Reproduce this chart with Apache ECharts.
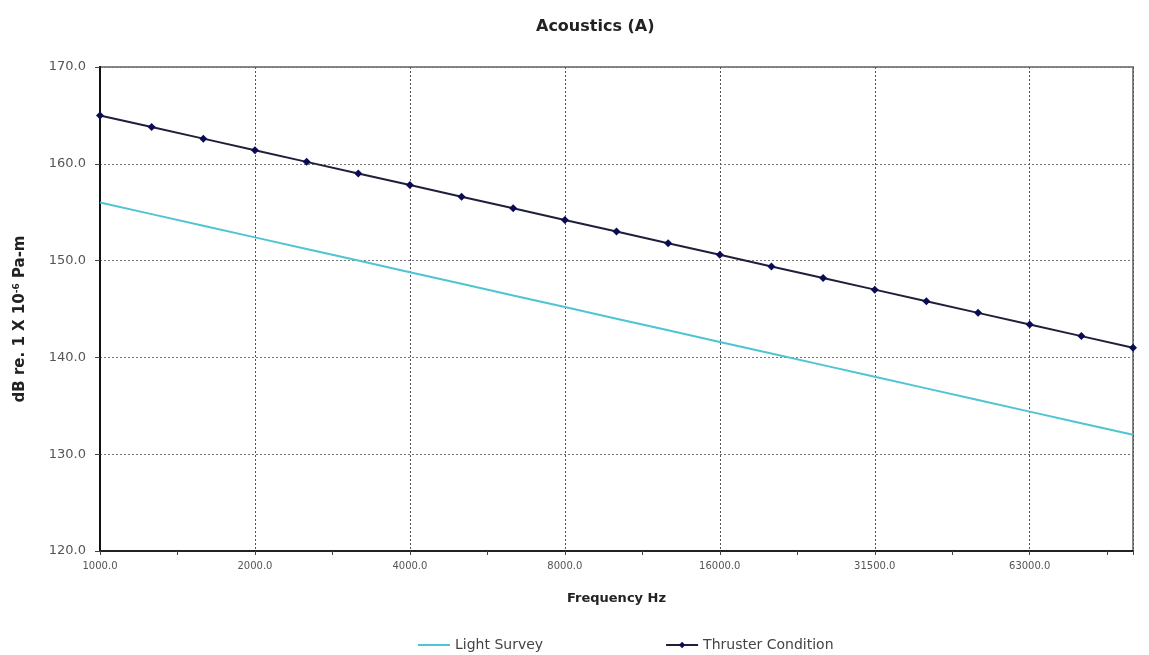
<!DOCTYPE html>
<html>
<head>
<meta charset="utf-8">
<script src="https://cdn.jsdelivr.net/npm/echarts@6/dist/echarts.min.js"></script>
<style>html,body{margin:0;padding:0;background:#fff;}#c{width:1149px;height:655px;}</style>
</head>
<body>
<div id="c"></div>
<script>
var frequencies = [1000, 1250, 1600, 2000, 2500, 3150, 4000, 5000, 6300, 8000, 10000, 12500, 16000, 20000, 25000, 31500, 40000, 50000, 63000, 80000, 100000];
var lightSurvey = [156.0, 154.8, 153.6, 152.4, 151.2, 150.0, 148.8, 147.6, 146.4, 145.2, 144.0, 142.8, 141.6, 140.4, 139.2, 138.0, 136.8, 135.6, 134.4, 133.2, 132.0];
var thrusterCondition = [165.0, 163.8, 162.6, 161.4, 160.2, 159.0, 157.8, 156.6, 155.4, 154.2, 153.0, 151.8, 150.6, 149.4, 148.2, 147.0, 145.8, 144.6, 143.4, 142.2, 141.0];
var yTicks = [120, 130, 140, 150, 160, 170];

function pairs(arr) { return arr.map(function (v, i) { return [i, v]; }); }
var lastIdx = frequencies.length - 1;
var FONT = 'DejaVu Sans';

var chart = echarts.init(document.getElementById('c'));
chart.setOption({
  animation: false,
  backgroundColor: '#fff',
  title: {
    text: 'Acoustics (A)',
    left: 531, top: 14,
    textStyle: { fontFamily: FONT, fontSize: 16, fontWeight: 'bold', color: '#222' }
  },
  grid: { left: 100, right: 16, top: 67, bottom: 104, show: true, borderColor: '#888', borderWidth: 2 },
  legend: {
    bottom: -2, left: 412,
    itemWidth: 32, itemHeight: 8, itemGap: 122,
    textStyle: { fontFamily: FONT, fontSize: 14, color: '#444' },
    data: [{ name: 'Light Survey', itemStyle: { opacity: 0 } }, { name: 'Thruster Condition' }]
  },
  xAxis: [{
    type: 'value', min: 0, max: lastIdx, interval: 1.5,
    name: 'Frequency Hz', nameLocation: 'middle', nameGap: 41,
    nameTextStyle: { fontFamily: FONT, fontSize: 13, fontWeight: 'bold', color: '#222' },
    axisLine: { lineStyle: { color: '#222', width: 2 } },
    axisTick: { show: true, length: 4, inside: false, lineStyle: { color: '#444' } },
    axisLabel: {
      fontFamily: FONT, fontSize: 10, color: '#555', margin: 10,
      formatter: function (v) {
        if (Math.abs(v - Math.round(v)) < 1e-6 && Math.round(v) % 3 === 0 && Math.round(v) <= lastIdx) {
          return frequencies[Math.round(v)].toFixed(1);
        }
        return '';
      }
    },
    splitLine: { show: false }
  }, {
    type: 'value', min: 0, max: lastIdx, interval: 3, position: 'bottom',
    axisLine: { show: false }, axisTick: { show: false }, axisLabel: { show: false },
    splitLine: { show: true, lineStyle: { color: '#555', type: [2, 2], width: 1 } }
  }],
  yAxis: [{
    type: 'value', min: yTicks[0], max: yTicks[yTicks.length - 1], interval: 10,
    name: 'dB re. 1 X 10{sup|-6} Pa-m', nameLocation: 'middle', nameGap: 72, nameRotate: 90,
    nameTextStyle: {
      fontFamily: FONT, fontSize: 15, fontWeight: 'bold', color: '#222', padding: [0, 20, 0, 0],
      rich: { sup: { fontFamily: FONT, fontSize: 9, fontWeight: 'bold', verticalAlign: 'top', padding: [0, 0, 7, 0], color: '#222' } }
    },
    axisLine: { show: true, lineStyle: { color: '#222', width: 2 } },
    axisTick: { show: true, length: 5, lineStyle: { color: '#444' } },
    axisLabel: { fontFamily: FONT, fontSize: 13, color: '#555', margin: 14,
      formatter: function (v) { return v.toFixed(1); } },
    splitLine: { show: true, lineStyle: { color: '#777', type: [2, 2], width: 1 } }
  }, {
    type: 'value', min: yTicks[0], max: yTicks[yTicks.length - 1], interval: 10, position: 'right',
    axisLine: { show: true, lineStyle: { color: '#111', width: 2 } },
    axisTick: { show: false }, axisLabel: { show: false }, splitLine: { show: false }
  }],
  series: [{
    name: 'Light Survey', type: 'line', xAxisIndex: 0, yAxisIndex: 0,
    data: pairs(lightSurvey), symbol: 'none',
    lineStyle: { color: '#4fc4d2', width: 2 }, itemStyle: { color: '#4fc4d2' }
  }, {
    name: 'Thruster Condition', type: 'line', xAxisIndex: 0, yAxisIndex: 0,
    data: pairs(thrusterCondition), symbol: 'diamond', symbolSize: 8,
    lineStyle: { color: '#1f1f3a', width: 2 }, itemStyle: { color: '#0b0b55' }
  }]
});
</script>
</body>
</html>
